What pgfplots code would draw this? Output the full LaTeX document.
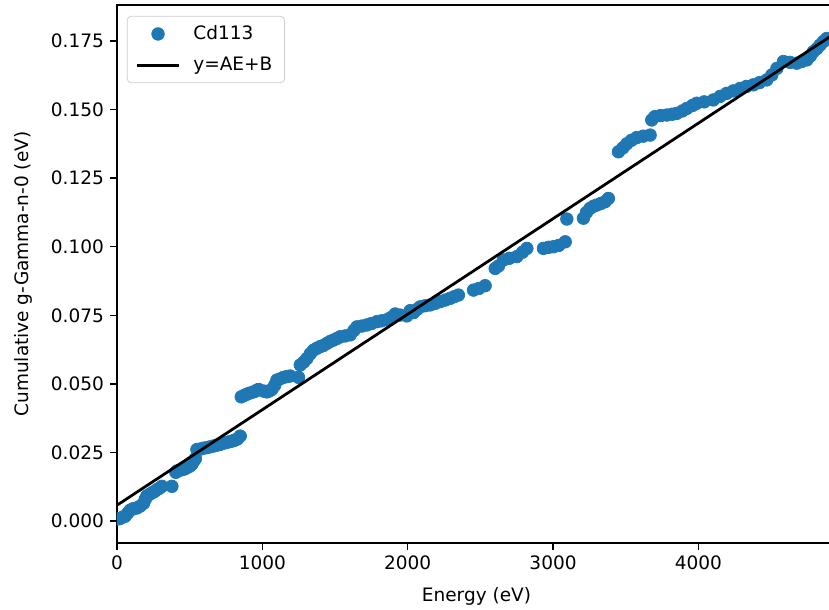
\documentclass[border=0pt]{standalone}
\usepackage{fontspec}
\setmainfont{DejaVu Sans}
\usepackage{pgfplots}
\pgfplotsset{compat=1.18}
\definecolor{mplblue}{HTML}{1F77B4}

\begin{document}
\begin{tikzpicture}
\begin{axis}[
    scale only axis,
    width=388.6pt, height=290.8pt,
    xmin=0, xmax=4947,
    ymin=-0.008, ymax=0.1881,
    xtick={0,1000,2000,3000,4000},
    ytick={0,0.025,0.05,0.075,0.1,0.125,0.15,0.175},
    tick pos=left, tick align=outside,
    major tick length=3.5pt,
    scaled ticks=false,
    x tick label style={/pgf/number format/1000 sep={}},
    y tick label style={/pgf/number format/.cd, fixed, fixed zerofill, precision=3},
    /pgf/number format/assume math mode=true,
    axis line style={line width=0.8pt},
    every tick/.style={line width=0.8pt, black},
    xlabel={Energy (eV)},
    ylabel={Cumulative g-Gamma-n-0 (eV)},
    every axis x label/.style={at={(axis description cs:0.5,0)}, anchor=base, yshift=-31.4pt},
    every axis y label/.style={at={(axis description cs:-0.130,0.5)}, rotate=90, anchor=center},
    clip marker paths=true,
    legend cell align=left,
    legend image code/.code={\draw[mark repeat=2,mark phase=2,#1] plot coordinates {(0pt,0pt)(11.35pt,0pt)(22.7pt,0pt)};},
    legend style={at={(0,1)}, anchor=north west, xshift=5.4pt, yshift=-5.9pt,
        draw=black!20, rounded corners=2pt, fill=white,
        inner xsep=4.5pt, inner ysep=3pt, row sep=4pt, column sep=5pt},
]

% Cd113 cumulative values
\addplot[only marks, mark=*, mark size=3.4pt, color=mplblue, mark options={fill=mplblue, draw=mplblue}]
coordinates {
(5,0.0008)(22,0.0010)(40,0.0015)(57,0.0018)(75,0.0030)(91,0.0040)(110,0.0045)(137,0.0048)
(160,0.0055)(183,0.0065)(195,0.0080)(206,0.0092)(225,0.0098)(240,0.0103)(258,0.0108)
(275,0.0115)(292,0.0120)(309,0.0127)(378,0.0127)(405,0.0178)(413,0.0183)(430,0.0185)
(447,0.0188)(465,0.0190)(481,0.0195)(500,0.0200)(516,0.0208)(530,0.0220)(540,0.0228)
(550,0.0261)(575,0.0263)(596,0.0266)(620,0.0268)(642,0.0271)(665,0.0274)(688,0.0277)
(710,0.0280)(733,0.0284)(755,0.0287)(779,0.0290)(800,0.0293)(814,0.0296)(830,0.0300)(848,0.0310)
(855,0.0453)(875,0.0458)(894,0.0463)(915,0.0467)(940,0.0471)(960,0.0476)(974,0.0480)
(1010,0.0474)(1032,0.0471)(1050,0.0475)(1066,0.0480)(1085,0.0495)(1100,0.0514)(1120,0.0518)
(1146,0.0524)(1170,0.0527)(1192,0.0529)(1249,0.0524)(1261,0.0569)(1285,0.0580)(1307,0.0593)
(1330,0.0610)(1352,0.0623)(1375,0.0630)(1398,0.0636)(1420,0.0640)(1445,0.0648)(1467,0.0655)
(1490,0.0660)(1515,0.0666)(1536,0.0672)(1570,0.0675)(1605,0.0679)(1630,0.0695)(1651,0.0708)
(1685,0.0711)(1719,0.0715)(1750,0.0720)(1788,0.0727)(1820,0.0730)(1857,0.0734)(1885,0.0742)
(1914,0.0755)(1948,0.0751)(1994,0.0748)(2017,0.0767)
(2040,0.0760)(2065,0.0772)(2086,0.0781)(2120,0.0785)(2155,0.0788)(2190,0.0794)(2224,0.0800)
(2260,0.0806)(2292,0.0812)(2320,0.0818)(2349,0.0824)(2453,0.0842)(2490,0.0848)(2533,0.0858)
(2602,0.0921)(2625,0.0930)(2659,0.0952)(2700,0.0958)(2751,0.0964)(2790,0.0980)(2820,0.0994)
(2934,0.0994)(2970,0.0998)(3003,0.1000)(3040,0.1005)(3084,0.1018)(3095,0.1101)(3209,0.1104)
(3230,0.1125)(3255,0.1140)(3280,0.1148)(3301,0.1152)(3330,0.1158)(3358,0.1164)(3381,0.1176)
(3450,0.1346)(3480,0.1360)(3507,0.1375)(3540,0.1388)(3576,0.1398)(3620,0.1403)(3668,0.1407)
(3679,0.1462)(3700,0.1474)(3740,0.1478)(3783,0.1480)(3820,0.1483)(3851,0.1486)(3890,0.1495)
(3920,0.1504)(3960,0.1515)(3989,0.1523)(4040,0.1528)(4103,0.1535)(4150,0.1548)(4195,0.1559)
(4240,0.1568)(4287,0.1577)(4330,0.1584)(4378,0.1590)(4420,0.1598)(4470,0.1608)(4505,0.1626)
(4540,0.1650)(4585,0.1675)(4630,0.1672)(4677,0.1669)(4710,0.1675)(4746,0.1681)(4770,0.1695)
(4791,0.1711)(4815,0.1722)(4837,0.1735)(4860,0.1748)(4883,0.1759)
};
\addlegendentry{Cd113}

% linear fit
\addplot[black, line width=1.5pt] coordinates {(0,0.0058)(4947,0.1780)};
\addlegendentry{y=AE+B}

\end{axis}
\pgfresetboundingbox
\path[use as bounding box] ([xshift=-63.2pt,yshift=-35.7pt]current axis.south west) rectangle ([xshift=-3.8pt,yshift=2.7pt]current axis.north east);
\end{tikzpicture}
\end{document}
